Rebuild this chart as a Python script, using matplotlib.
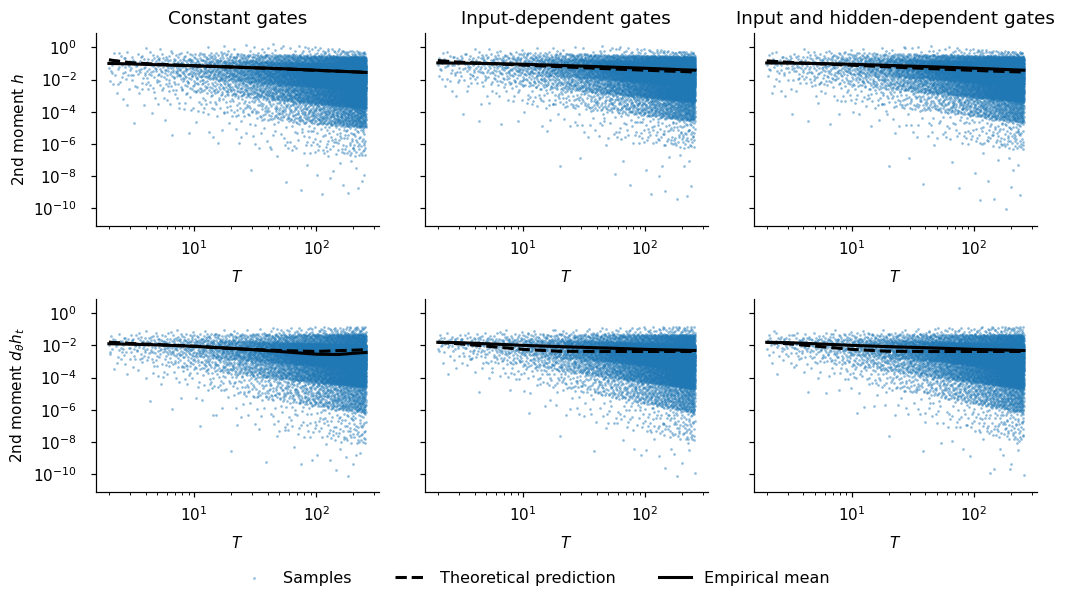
import numpy as np
import matplotlib.pyplot as plt
from matplotlib.ticker import FixedLocator, NullLocator

titles = ["Constant gates", "Input-dependent gates", "Input and hidden-dependent gates"]
ylabels = ["2nd moment $h$", "2nd moment $d_\\theta h_t$"]

# curves, log10 of the 2nd moment at these sequence lengths
T_LINE = [2, 3, 5, 10, 20, 50, 100, 150, 200, 256]

mean_h_const = [-1.00, -1.03, -1.08, -1.15, -1.22, -1.32, -1.42, -1.48, -1.52, -1.56]
theo_h_const = [-0.78, -0.95, -1.05, -1.14, -1.22, -1.33, -1.43, -1.48, -1.52, -1.55]
mean_h_input = [-0.97, -0.98, -1.00, -1.05, -1.12, -1.22, -1.30, -1.35, -1.39, -1.42]
theo_h_input = [-0.82, -0.92, -1.00, -1.10, -1.20, -1.33, -1.42, -1.47, -1.50, -1.53]
mean_h_hidden = [-0.97, -0.98, -1.00, -1.05, -1.12, -1.22, -1.30, -1.35, -1.39, -1.42]
theo_h_hidden = [-0.84, -0.93, -1.01, -1.11, -1.21, -1.34, -1.43, -1.48, -1.51, -1.53]

mean_d_const = [-1.90, -1.93, -1.97, -2.06, -2.18, -2.38, -2.55, -2.57, -2.50, -2.44]
theo_d_const = [-1.80, -1.88, -1.95, -2.05, -2.20, -2.32, -2.38, -2.33, -2.30, -2.27]
mean_d_input = [-1.81, -1.83, -1.90, -2.00, -2.08, -2.17, -2.25, -2.28, -2.30, -2.32]
theo_d_input = [-1.81, -1.90, -2.05, -2.25, -2.37, -2.38, -2.38, -2.38, -2.38, -2.38]
mean_d_hidden = [-1.81, -1.83, -1.90, -2.00, -2.08, -2.17, -2.25, -2.28, -2.30, -2.32]
theo_d_hidden = [-1.81, -1.90, -2.05, -2.25, -2.37, -2.38, -2.38, -2.38, -2.38, -2.38]

# spread of the samples: log10 quantiles at a few sequence lengths
T_ANCHOR = [2, 10, 50, 256]
Q_LEVELS = [0.0, 0.002, 0.02, 0.1, 0.3, 0.5, 0.7, 0.9, 0.99, 1.0]

spread_h_const = [
    [-7.3, -5.0, -3.6, -2.5, -1.7, -1.30, -0.95, -0.60, -0.25, 0.00],
    [-9.0, -5.8, -4.0, -2.8, -1.9, -1.50, -1.10, -0.70, -0.30, 0.10],
    [-9.5, -6.5, -4.6, -3.3, -2.3, -1.80, -1.35, -0.90, -0.45, 0.25],
    [-9.0, -6.8, -5.0, -3.8, -2.7, -2.10, -1.60, -1.10, -0.60, -0.25],
]
spread_h_input = [
    [-7.2, -4.5, -3.0, -2.1, -1.5, -1.15, -0.85, -0.55, -0.25, 0.00],
    [-7.5, -5.0, -3.5, -2.4, -1.7, -1.30, -0.95, -0.60, -0.30, 0.00],
    [-9.0, -5.8, -4.0, -2.9, -2.0, -1.55, -1.15, -0.80, -0.45, 0.10],
    [-9.7, -6.3, -4.6, -3.4, -2.4, -1.90, -1.45, -1.00, -0.60, -0.30],
]
spread_h_hidden = [
    [-7.4, -4.6, -3.0, -2.1, -1.5, -1.15, -0.85, -0.55, -0.25, 0.00],
    [-7.5, -5.0, -3.5, -2.4, -1.7, -1.30, -0.95, -0.60, -0.30, 0.00],
    [-9.0, -5.8, -4.0, -2.9, -2.0, -1.55, -1.15, -0.80, -0.45, 0.10],
    [-10.5, -6.4, -4.7, -3.4, -2.4, -1.90, -1.45, -1.00, -0.60, -0.30],
]
spread_d_const = [
    [-6.5, -4.8, -3.6, -2.8, -2.3, -2.00, -1.75, -1.50, -1.20, -1.00],
    [-9.0, -6.5, -4.6, -3.5, -2.7, -2.30, -1.95, -1.60, -1.25, -1.00],
    [-9.5, -7.5, -5.5, -4.1, -3.1, -2.60, -2.20, -1.80, -1.30, -0.90],
    [-10.4, -8.2, -6.2, -4.6, -3.5, -2.95, -2.50, -2.00, -1.30, -0.80],
]
spread_d_input = [
    [-5.5, -4.3, -3.2, -2.6, -2.1, -1.85, -1.65, -1.45, -1.20, -1.00],
    [-7.5, -5.8, -4.3, -3.3, -2.6, -2.20, -1.90, -1.60, -1.25, -1.00],
    [-9.0, -7.0, -5.2, -4.0, -3.0, -2.55, -2.15, -1.75, -1.30, -0.90],
    [-10.5, -8.0, -6.2, -4.7, -3.6, -3.00, -2.50, -2.00, -1.35, -0.80],
]
spread_d_hidden = [
    [-5.6, -4.3, -3.2, -2.6, -2.1, -1.85, -1.65, -1.45, -1.20, -1.00],
    [-7.5, -5.8, -4.3, -3.3, -2.6, -2.20, -1.90, -1.60, -1.25, -1.00],
    [-9.0, -7.0, -5.2, -4.0, -3.0, -2.55, -2.15, -1.75, -1.30, -0.90],
    [-10.6, -8.0, -6.2, -4.7, -3.6, -3.00, -2.50, -2.00, -1.35, -0.80],
]

panels = [
    [(spread_h_const, theo_h_const, mean_h_const),
     (spread_h_input, theo_h_input, mean_h_input),
     (spread_h_hidden, theo_h_hidden, mean_h_hidden)],
    [(spread_d_const, theo_d_const, mean_d_const),
     (spread_d_input, theo_d_input, mean_d_input),
     (spread_d_hidden, theo_d_hidden, mean_d_hidden)],
]

N_SAMPLES = 9000
T_MIN, T_MAX = 2, 256


def radical_inverse(k, base):
    k = k.copy()
    f = 1.0
    r = np.zeros(len(k))
    while np.any(k > 0):
        f /= base
        r += f * (k % base)
        k //= base
    return r


def samples_from_spread(spread, offset):
    # Halton points (bases 3, 2) pushed through the quantile table
    k = np.arange(N_SAMPLES) + 1 + offset
    T = T_MIN + (T_MAX - T_MIN) * radical_inverse(k, 3)
    u = radical_inverse(k, 2)
    q = np.array(spread)
    logT = np.log10(T)
    curves = np.array([np.interp(logT, np.log10(T_ANCHOR), q[:, j]) for j in range(q.shape[1])])
    lv = np.array(Q_LEVELS)
    j = np.clip(np.searchsorted(lv, u) - 1, 0, len(lv) - 2)
    w = (u - lv[j]) / (lv[j + 1] - lv[j])
    idx = np.arange(N_SAMPLES)
    logy = curves[j, idx] * (1 - w) + curves[j + 1, idx] * w
    return T, 10.0 ** logy


fig, axes = plt.subplots(2, 3, figsize=(1067 / 110, 596 / 110), dpi=110, sharey=True)
fig.subplots_adjust(left=0.090, right=0.9716, top=0.944, bottom=0.175, wspace=0.163, hspace=0.381)

for r in range(2):
    for c in range(3):
        ax = axes[r, c]
        spread, theo, mean = panels[r][c]
        T, y = samples_from_spread(spread, offset=1777 * (3 * r + c))
        ax.scatter(T, y, s=3, color="C0", alpha=0.5, linewidths=0, label="Samples")
        ax.plot(T_LINE, 10.0 ** np.array(theo), "k--", lw=2, label="Theoretical prediction")
        ax.plot(T_LINE, 10.0 ** np.array(mean), "k-", lw=2, label="Empirical mean")
        ax.set_xscale("log")
        ax.set_yscale("log")
        ax.set_ylim(10 ** -11.1, 10 ** 0.87)
        ax.yaxis.set_major_locator(FixedLocator([10.0 ** e for e in range(-10, 1, 2)]))
        ax.yaxis.set_minor_locator(NullLocator())
        ax.tick_params(axis="x", which="major", pad=5.5)
        ax.tick_params(axis="y", which="major", pad=9)
        ax.set_xlabel("$T$", labelpad=7)
        ax.spines["top"].set_visible(False)
        ax.spines["right"].set_visible(False)
        if r == 0:
            ax.set_title(titles[c])
        if c == 0:
            ax.set_ylabel(ylabels[r])

handles, labels = axes[0, 0].get_legend_handles_labels()
fig.legend(handles, labels, loc="center", bbox_to_anchor=(0.5, 0.03), ncol=3,
           frameon=False, fontsize=10.5, columnspacing=2.7)

fig.savefig("out.png", dpi=110)
